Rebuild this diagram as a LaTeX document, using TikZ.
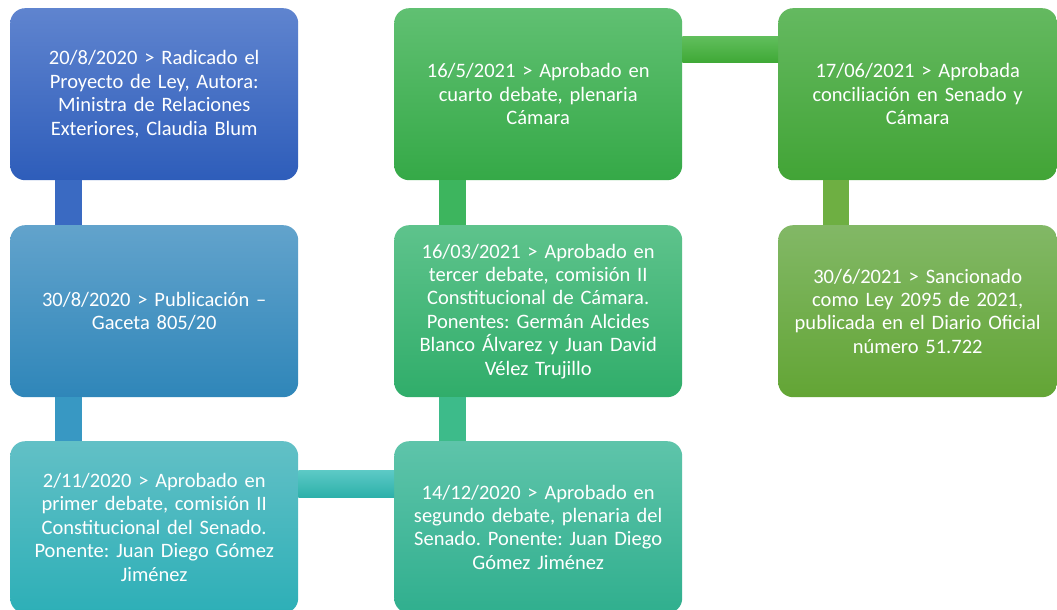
\documentclass[tikz,border=0pt]{standalone}
\usepackage{fontspec}
\setmainfont{Carlito}
\frenchspacing
\definecolor{bAt}{RGB}{95,132,207}\definecolor{bAb}{RGB}{46,93,186}
\definecolor{bBt}{RGB}{98,163,204}\definecolor{bBb}{RGB}{47,134,185}
\definecolor{bCt}{RGB}{98,192,198}\definecolor{bCb}{RGB}{45,175,183}
\definecolor{bFt}{RGB}{94,196,170}\definecolor{bFb}{RGB}{48,175,142}
\definecolor{bEt}{RGB}{94,195,140}\definecolor{bEb}{RGB}{48,173,106}
\definecolor{bDt}{RGB}{96,192,114}\definecolor{bDb}{RGB}{53,169,71}
\definecolor{bGt}{RGB}{100,185,96}\definecolor{bGb}{RGB}{66,164,54}
\definecolor{bHt}{RGB}{130,184,102}\definecolor{bHb}{RGB}{99,165,53}
\definecolor{cAB}{RGB}{58,106,194}
\definecolor{cBC}{RGB}{56,152,195}
\definecolor{cCFt}{RGB}{93,202,198}\definecolor{cCFm}{RGB}{59,194,188}\definecolor{cCFb}{RGB}{45,176,170}
\definecolor{cEF}{RGB}{61,187,138}
\definecolor{cDE}{RGB}{61,181,94}
\definecolor{cDGt}{RGB}{96,190,92}\definecolor{cDGm}{RGB}{72,180,62}\definecolor{cDGb}{RGB}{62,168,53}
\definecolor{cGH}{RGB}{110,175,66}
\begin{document}
\begin{tikzpicture}[x=1pt,y=1pt,
  box/.style={rectangle, rounded corners=15pt, minimum height=172pt, inner sep=0pt,
    anchor=north west, text=white, align=center, font=\fontsize{20.5}{23.4}\selectfont},
  wbox/.style={box, minimum width=288pt, text width=284pt},
  nbox/.style={box, minimum width=279pt, text width=277pt}
]
\useasboundingbox (0,0) rectangle (1057,-610);
\fill[white] (0,0) rectangle (1057,-610);

% boxes
\node[wbox, top color=bAt, bottom color=bAb] (b1) at (10,-8)
  {20/8/2020 > Radicado el\\Proyecto de Ley, Autora:\\Ministra de Relaciones\\Exteriores, Claudia Blum};
\node[wbox, top color=bBt, bottom color=bBb] (b2) at (10,-225)
  {30/8/2020 > Publicación –\\Gaceta 805/20};
\node[wbox, top color=bCt, bottom color=bCb] (b3) at (10,-441)
  {2/11/2020 > Aprobado en\\primer debate, comisión II\\Constitucional del Senado.\\Ponente: Juan Diego Gómez\\Jiménez};
\node[wbox, top color=bFt, bottom color=bFb] (b6) at (394,-441)
  {14/12/2020 > Aprobado en\\segundo debate, plenaria del\\Senado. Ponente: Juan Diego\\Gómez Jiménez};
\node[wbox, top color=bEt, bottom color=bEb] (b5) at (394,-225)
  {16/03/2021 > Aprobado en\\tercer debate, comisión II\\Constitucional de Cámara.\\Ponentes: Germán Alcides\\Blanco Álvarez y Juan David\\Vélez Trujillo};
\node[wbox, top color=bDt, bottom color=bDb] (b4) at (394,-8)
  {16/5/2021 > Aprobado en\\cuarto debate, plenaria\\Cámara};
\node[nbox, top color=bGt, bottom color=bGb] (b7) at (778,-8)
  {17/06/2021 > Aprobada\\conciliación en Senado y\\Cámara};
\node[nbox, top color=bHt, bottom color=bHb] (b8) at (778,-225)
  {30/6/2021 > Sancionado\\como Ley 2095 de 2021,\\publicada en el Diario Oficial\\número 51.722};

% connectors
\fill[cAB] ([xshift=45pt]b1.south west) rectangle ([xshift=72pt]b2.north west);
\fill[cBC] ([xshift=45pt]b2.south west) rectangle ([xshift=72pt]b3.north west);
\shade[top color=cCFt, middle color=cCFm, bottom color=cCFb]
  ([yshift=-29pt]b3.north east) rectangle ([yshift=-56pt]b6.north west);
\fill[cEF] ([xshift=45pt]b5.south west) rectangle ([xshift=72pt]b6.north west);
\fill[cDE] ([xshift=45pt]b4.south west) rectangle ([xshift=72pt]b5.north west);
\shade[top color=cDGt, middle color=cDGm, bottom color=cDGb]
  ([yshift=-29pt]b4.north east) rectangle ([yshift=-55pt]b7.north west);
\fill[cGH] ([xshift=45pt]b7.south west) rectangle ([xshift=71pt]b8.north west);
\end{tikzpicture}
\end{document}
